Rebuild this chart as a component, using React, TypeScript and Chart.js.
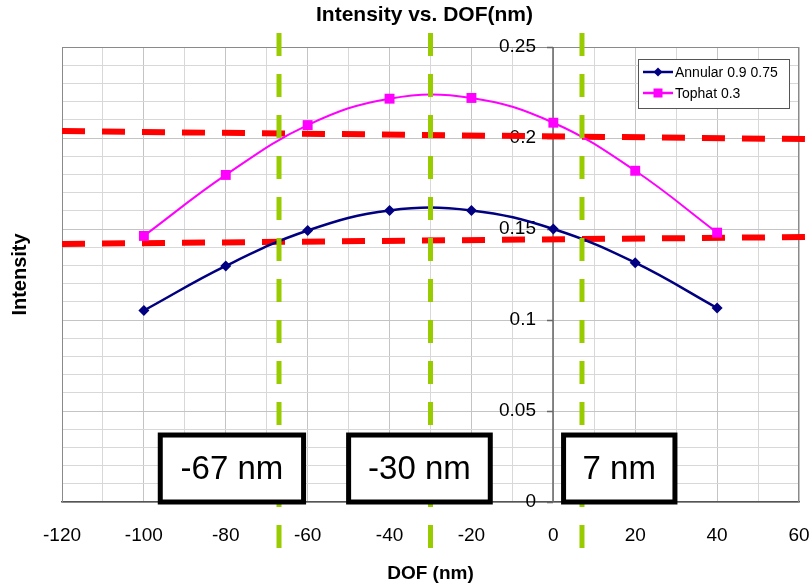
import React, { useEffect, useRef } from 'react';
import { Chart, registerables } from 'chart.js';

Chart.register(...registerables);

const FONT = '"Liberation Sans", Arial, sans-serif';

// Data
const dofValues = [-100, -80, -60, -40, -20, 0, 20, 40];
const annularValues = [0.1052, 0.1297, 0.1492, 0.1602, 0.1602, 0.1500, 0.1315, 0.1066];
const tophatValues = [0.1462, 0.1797, 0.2071, 0.2216, 0.2220, 0.2084, 0.1820, 0.1480];
const seriesNames = ['Annular 0.9 0.75', 'Tophat 0.3'];
const xRange = [-120, 60];
const yRange = [0, 0.25];
const yLabelValues = [0, 0.05, 0.1, 0.15, 0.2, 0.25];
const yLabelTexts = ['0', '0.05', '0.1', '0.15', '0.2', '0.25'];

// Overlay annotations
const guideX = [-67, -30, 7];
const guideYRange = [0.2577, -0.0253];
const thresholdX = [-120, 61.5];
const thresholdUpper = [0.2038, 0.1994];
const thresholdLower = [0.1418, 0.1456];
const boxLabels = ['-67 nm', '-30 nm', '7 nm'];
const boxStart = [-96, -50, 2.5];
const boxEnd = [-61, -15.4, 29.7];
const boxTop = 0.0368;

const isMajorY = (v: number) => Math.round(v * 100) % 5 === 0;
const isMajorX = (v: number) => Math.round(v) % 20 === 0;

const overlayPlugin = {
  id: 'overlay',
  beforeDatasetsDraw(chart: any) {
    const { ctx, chartArea: a, scales } = chart;
    const xs = scales.x;
    const ys = scales.y;
    ctx.save();
    // top & right borders
    ctx.strokeStyle = '#8a8a8a';
    ctx.lineWidth = 1;
    ctx.beginPath();
    ctx.moveTo(a.left, a.top + 0.5);
    ctx.lineTo(a.right, a.top + 0.5);
    ctx.moveTo(a.right - 0.5, a.top);
    ctx.lineTo(a.right - 0.5, a.bottom);
    ctx.stroke();
    // y axis at x = 0
    const x0 = Math.round(xs.getPixelForValue(0));
    ctx.strokeStyle = '#666666';
    ctx.lineWidth = 1.5;
    ctx.beginPath();
    ctx.moveTo(x0, a.top);
    ctx.lineTo(x0, a.bottom);
    yLabelValues.forEach((v) => {
      const py = Math.round(ys.getPixelForValue(v)) + 0.5;
      ctx.moveTo(x0 - 6, py);
      ctx.lineTo(x0, py);
    });
    ctx.stroke();
    ctx.fillStyle = '#000';
    ctx.font = `19px ${FONT}`;
    ctx.textAlign = 'right';
    ctx.textBaseline = 'middle';
    yLabelValues.forEach((v, i) => {
      ctx.fillText(yLabelTexts[i], x0 - 17, ys.getPixelForValue(v));
    });
    ctx.restore();
  },
  afterDatasetsDraw(chart: any) {
    const { ctx, scales } = chart;
    const xs = scales.x;
    const ys = scales.y;
    ctx.save();
    // boxes
    boxLabels.forEach((label, i) => {
      const l = xs.getPixelForValue(boxStart[i]);
      const r = xs.getPixelForValue(boxEnd[i]);
      const t = ys.getPixelForValue(boxTop);
      const b = ys.getPixelForValue(0);
      ctx.fillStyle = '#fff';
      ctx.fillRect(l, t, r - l, b - t);
      ctx.strokeStyle = '#000';
      ctx.lineWidth = 5;
      ctx.strokeRect(l, t, r - l, b - t);
      ctx.fillStyle = '#000';
      ctx.font = `33px ${FONT}`;
      ctx.textAlign = 'center';
      ctx.textBaseline = 'middle';
      ctx.fillText(label, (l + r) / 2, (t + b) / 2 + 1);
    });
    // legend
    const lx = 638, ly = 59, lw = 151, lh = 49;
    ctx.fillStyle = '#fff';
    ctx.fillRect(lx, ly, lw, lh);
    ctx.strokeStyle = '#555';
    ctx.lineWidth = 1;
    ctx.strokeRect(lx + 0.5, ly + 0.5, lw, lh);
    const rows = [
      { y: ly + 13, color: '#000080', style: 'diamond' },
      { y: ly + 34, color: '#ff00ff', style: 'square' },
    ];
    rows.forEach((row, i) => {
      ctx.strokeStyle = row.color;
      ctx.lineWidth = 2.5;
      ctx.beginPath();
      ctx.moveTo(lx + 5, row.y);
      ctx.lineTo(lx + 35, row.y);
      ctx.stroke();
      ctx.fillStyle = row.color;
      const cx = lx + 20;
      if (row.style === 'diamond') {
        ctx.beginPath();
        ctx.moveTo(cx, row.y - 4.5);
        ctx.lineTo(cx + 4.5, row.y);
        ctx.lineTo(cx, row.y + 4.5);
        ctx.lineTo(cx - 4.5, row.y);
        ctx.closePath();
        ctx.fill();
      } else {
        ctx.fillRect(cx - 4.5, row.y - 4.5, 9, 9);
      }
      ctx.fillStyle = '#000';
      ctx.font = `14px ${FONT}`;
      ctx.textAlign = 'left';
      ctx.textBaseline = 'middle';
      ctx.fillText(seriesNames[i], lx + 37, row.y + 1);
    });
    ctx.restore();
  },
  afterDraw(chart: any) {
    const { ctx, chartArea: a } = chart;
    ctx.save();
    ctx.fillStyle = '#000';
    ctx.font = `bold 21px ${FONT}`;
    ctx.textAlign = 'center';
    ctx.textBaseline = 'middle';
    ctx.fillText('Intensity vs. DOF(nm)', (a.left + a.right) / 2 - 6, 15);
    ctx.restore();
  },
};

export default function App() {
  const ref = useRef<HTMLCanvasElement | null>(null);
  useEffect(() => {
    if (!ref.current) return;
    const pts = (vals: number[]) => dofValues.map((x, i) => ({ x, y: vals[i] }));
    const guideSets = guideX.map((gx) => ({
      label: 'guide',
      data: [{ x: gx, y: guideYRange[0] }, { x: gx, y: guideYRange[1] }],
      borderColor: '#99cc00',
      borderWidth: 5,
      borderDash: [23, 18],
      pointRadius: 0,
      tension: 0,
      clip: false as any,
      order: 1,
    }));
    const thresholdSets = [thresholdUpper, thresholdLower].map((ys) => ({
      label: 'threshold',
      data: [{ x: thresholdX[0], y: ys[0] }, { x: thresholdX[1], y: ys[1] }],
      borderColor: '#ff0000',
      borderWidth: 6,
      borderDash: [23, 17],
      pointRadius: 0,
      tension: 0,
      clip: false as any,
      order: 3,
    }));
    const chart = new Chart(ref.current, {
      type: 'line',
      data: {
        datasets: [
          {
            label: seriesNames[0],
            data: pts(annularValues),
            borderColor: '#000080',
            backgroundColor: '#000080',
            borderWidth: 2.5,
            pointStyle: 'rectRot',
            pointRadius: 5.5,
            pointBorderWidth: 0,
            tension: 0.4,
            order: 2,
          },
          {
            label: seriesNames[1],
            data: pts(tophatValues),
            borderColor: '#ff00ff',
            backgroundColor: '#ff00ff',
            borderWidth: 2,
            pointStyle: 'rect',
            pointRadius: 7,
            pointBorderWidth: 0,
            tension: 0.4,
            order: 2,
          },
          ...thresholdSets,
          ...guideSets,
        ] as any,
      },
      options: {
        animation: false,
        responsive: false,
        devicePixelRatio: 1,
        layout: { padding: { top: 47, right: 12, left: 0, bottom: 0 } },
        plugins: {
          legend: { display: false },
          tooltip: { enabled: false },
          title: { display: false },
        },
        scales: {
          x: {
            type: 'linear',
            position: 'bottom',
            min: xRange[0],
            max: xRange[1],
            afterFit: (s: any) => {
              s.height = 86;
              s.paddingLeft = 0;
              s.paddingRight = 0;
            },
            ticks: {
              stepSize: 10,
              autoSkip: false,
              maxRotation: 0,
              padding: 22,
              color: '#000',
              font: { family: FONT, size: 19 },
              callback: (v: any) => (isMajorX(Number(v)) ? String(v) : ''),
            },
            grid: {
              drawTicks: false,
              color: (c: any) => (c.tick && isMajorX(c.tick.value) ? '#c4c4c4' : '#d8d8d8'),
              lineWidth: 1,
            },
            border: { color: '#555', width: 1.5 },
            title: {
              display: true,
              text: 'DOF (nm)',
              color: '#000',
              font: { family: FONT, size: 19, weight: 'bold' },
              padding: { top: 0, bottom: 3 },
            },
          },
          y: {
            type: 'linear',
            position: 'left',
            min: yRange[0],
            max: yRange[1],
            afterFit: (s: any) => { s.width = 62; },
            ticks: { stepSize: 0.01, display: false },
            grid: {
              drawTicks: false,
              color: (c: any) => (c.tick && isMajorY(c.tick.value) ? '#c4c4c4' : '#d8d8d8'),
              lineWidth: 1,
            },
            border: { color: '#8a8a8a', width: 1 },
            title: {
              display: true,
              text: 'Intensity',
              color: '#000',
              font: { family: FONT, size: 20, weight: 'bold' },
              padding: { top: 8, bottom: 0 },
            },
          },
        },
      } as any,
      plugins: [overlayPlugin],
    });
    return () => chart.destroy();
  }, []);
  return (
    <div style={{ position: 'fixed', left: 0, top: 0, width: 811, height: 588, background: '#fff' }}>
      <canvas ref={ref} width={811} height={588} style={{ display: 'block', width: 811, height: 588 }} />
    </div>
  );
}
